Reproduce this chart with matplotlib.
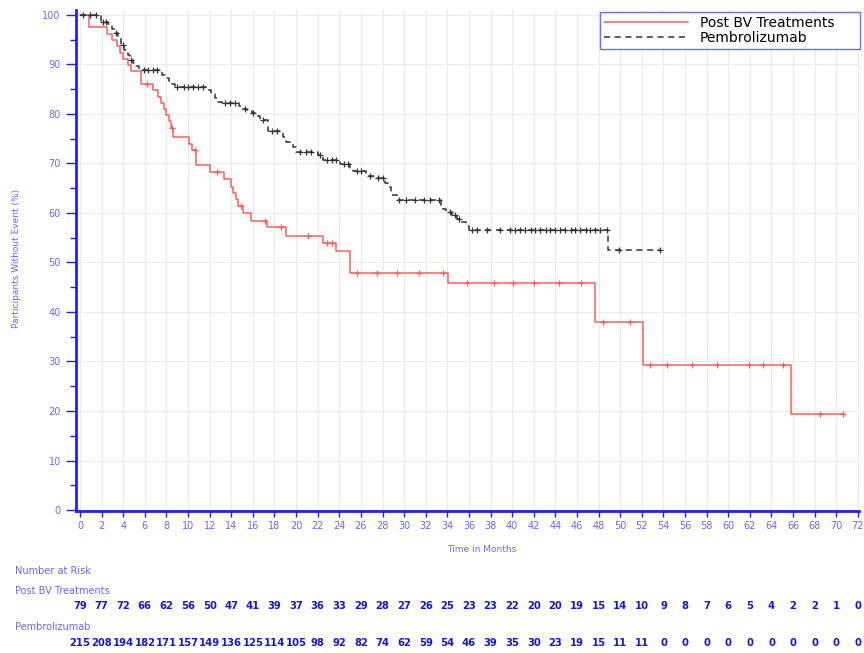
import numpy as np
import matplotlib
matplotlib.use('Agg')
import matplotlib.pyplot as plt
from matplotlib.ticker import MultipleLocator

# Post BV Treatments: step times and survival (%) after each drop
post_t = [0, 0.8, 2.5, 3.0, 3.4, 3.7, 4.0, 4.4, 4.7, 5.6, 6.8, 7.2, 7.5, 7.8, 8.0, 8.2, 8.4, 8.6,
          10.1, 10.4, 10.7, 12.0, 13.3, 14.0, 14.2, 14.4, 14.6, 15.1, 15.8, 17.3, 19.1, 22.5, 23.7,
          25.0, 34.1, 47.7, 52.1, 65.8]
post_s = [100, 97.5, 96.2, 94.9, 93.7, 92.4, 91.1, 89.9, 88.6, 86.1, 84.8, 83.5, 82.3, 81.0, 79.7, 78.5, 77.2, 75.3,
          74.0, 72.7, 69.7, 68.3, 66.8, 65.3, 64.0, 62.8, 61.4, 59.9, 58.4, 57.1, 55.4, 53.9, 52.3,
          47.8, 45.8, 37.9, 29.2, 19.4]
post_end = 70.6
post_cens = [6.2, 8.5, 10.6, 12.7, 14.9, 17.1, 18.6, 21.1, 22.9, 23.3, 25.6, 27.5, 29.3, 31.4, 33.6,
             35.8, 38.3, 40.1, 42.0, 44.3, 46.4, 48.4, 50.9, 52.8, 54.3, 56.6, 59.0, 61.9, 63.2,
             65.1, 68.5, 70.6]

# Pembrolizumab
pem_t = [0, 1.9, 2.6, 3.0, 3.2, 3.5, 3.8, 4.1, 4.4, 4.6, 4.9, 5.2, 5.5, 7.3, 7.6, 7.9, 8.2, 8.5, 8.8,
         11.8, 12.1, 12.5, 12.8, 13.1, 14.7, 15.1, 15.5, 15.9, 16.3, 16.7, 17.4, 18.8, 19.1, 19.7,
         20.0, 22.0, 22.5, 24.1, 25.0, 25.3, 26.5, 27.4, 28.2, 28.5, 28.8, 29.3, 33.4, 33.6, 33.9,
         34.4, 34.9, 35.3, 35.7, 36.0, 48.9]
pem_s = [100, 98.6, 98.1, 97.2, 96.3, 95.3, 93.9, 92.9, 91.9, 90.9, 90.2, 89.6, 88.9, 88.4, 87.9, 87.2, 86.7, 86.1, 85.4,
         84.8, 84.0, 83.2, 82.5, 82.2, 81.6, 81.1, 80.7, 80.1, 79.5, 78.8, 76.6, 75.4, 74.4, 73.4,
         72.4, 71.7, 70.8, 69.9, 69.0, 68.4, 67.5, 67.0, 66.0, 65.2, 63.6, 62.6, 61.6, 60.9, 60.2,
         59.5, 58.8, 58.1, 57.3, 56.6, 52.6]
pem_end = 53.7
pem_cens = [0.3, 0.9, 1.5, 2.1, 2.4, 3.3, 4.0, 4.7, 5.9, 6.3, 6.8, 7.1, 9.0, 9.6, 10.0, 10.5, 10.95, 11.4,
            13.4, 13.9, 14.3, 15.3, 16.0, 16.9, 17.8, 18.2, 20.4, 20.9, 21.4, 22.2, 22.9, 23.3, 23.7,
            24.4, 24.8, 25.6, 26.0, 26.8, 27.6, 28.0, 29.5, 30.2, 31.0, 31.8, 32.4, 33.2, 34.2, 34.7,
            35.1, 36.3, 36.7, 37.7, 38.9, 39.8, 40.3, 40.7, 41.2, 41.7, 42.1, 42.6, 43.1, 43.5, 44.0,
            44.4, 44.9, 45.4, 45.8, 46.3, 46.8, 47.2, 47.7, 48.1, 48.8, 49.9, 53.7]

# number at risk table
risk_times = list(range(0, 73, 2))
post_risk = [79, 77, 72, 66, 62, 56, 50, 47, 41, 39, 37, 36, 33, 29, 28, 27, 26, 25, 23, 23,
             22, 20, 20, 19, 15, 14, 10, 9, 8, 7, 6, 5, 4, 2, 2, 1, 0]
pem_risk = [215, 208, 194, 182, 171, 157, 149, 136, 125, 114, 105, 98, 92, 82, 74, 62, 59, 54, 46, 39,
            35, 30, 23, 19, 15, 11, 11, 0, 0, 0, 0, 0, 0, 0, 0, 0, 0]

BLUE = '#2020ff'
LBLUE = '#6a6af5'
RED = '#ff5f5f'
DARK = '#333333'


def km_line(ax, t, s, end, cens, color, label, **kw):
    tt = np.array(t + [end])
    ss = np.array(s + [s[-1]])
    ax.step(tt, ss, where='post', color=color, lw=1.1, label=label, **kw)
    cens = np.array(cens)
    idx = np.searchsorted(np.array(t), cens, side='right') - 1
    ax.plot(cens, np.array(s)[idx], ls='none', marker='+', ms=5, mew=0.9, color=color)


fig = plt.figure(figsize=(8.64, 6.53), dpi=100)
ax = fig.add_axes([76 / 864, 1 - 511 / 653, 783 / 864, 501 / 653])

km_line(ax, post_t, post_s, post_end, post_cens, RED, 'Post BV Treatments')
km_line(ax, pem_t, pem_s, pem_end, pem_cens, DARK, 'Pembrolizumab', dashes=(4, 3))

ax.set_xlim(-0.37, 72.1)
ax.set_ylim(-0.2, 101)
ax.xaxis.set_major_locator(MultipleLocator(2))
ax.yaxis.set_major_locator(MultipleLocator(10))
ax.yaxis.set_minor_locator(MultipleLocator(5))
ax.grid(True, which='major', color='#ebebeb', lw=0.8)
ax.set_axisbelow(True)

for side in ['top', 'right']:
    ax.spines[side].set_visible(False)
for side in ['left', 'bottom']:
    ax.spines[side].set_color(BLUE)
    ax.spines[side].set_linewidth(2)

ax.tick_params(axis='y', which='major', length=7, width=1, color=BLUE, labelcolor=LBLUE, labelsize=7, pad=4)
ax.tick_params(axis='y', which='minor', length=4, width=1, color=BLUE)
ax.tick_params(axis='x', which='major', length=4, width=1, color=BLUE, labelcolor=LBLUE, labelsize=7, pad=3)

fig.text(17 / 864, 1 - 258 / 653, 'Participants Without Event (%)', rotation=90, color=LBLUE,
         fontsize=6.5, ha='center', va='center')
fig.text(482 / 864, 1 - 550 / 653, 'Time in Months', color=LBLUE, fontsize=6.5, ha='center', va='center')

# legend box stretched over the reference's box (x 600-860 px)
leg = ax.legend(loc='upper left', bbox_to_anchor=((600 - 76) / 783, (511 - 57) / 501, 260 / 783, 45 / 501),
                mode='expand', fontsize=10, handlelength=6.0, frameon=True, fancybox=False,
                borderpad=0.3, labelspacing=0.05, handletextpad=0.9, borderaxespad=0)
leg.get_frame().set_edgecolor('#6f6fff')
leg.get_frame().set_linewidth(1)
leg.get_frame().set_alpha(1)

# number at risk
fig.text(15 / 864, 1 - 571 / 653, 'Number at Risk', color=LBLUE, fontsize=7, va='center')
fig.text(15 / 864, 1 - 591 / 653, 'Post BV Treatments', color=LBLUE, fontsize=7, va='center')
fig.text(15 / 864, 1 - 627 / 653, 'Pembrolizumab', color=LBLUE, fontsize=7, va='center')
trans = ax.get_xaxis_transform()
for x, n in zip(risk_times, post_risk):
    ax.text(x, (511 - 606) / 501, str(n), transform=trans, ha='center', va='center',
            color='#1515e0', fontsize=7.2, fontweight='bold', clip_on=False)
for x, n in zip(risk_times, pem_risk):
    ax.text(x, (511 - 643) / 501, str(n), transform=trans, ha='center', va='center',
            color='#1515e0', fontsize=7.2, fontweight='bold', clip_on=False)

plt.savefig('out.png', dpi=100)
